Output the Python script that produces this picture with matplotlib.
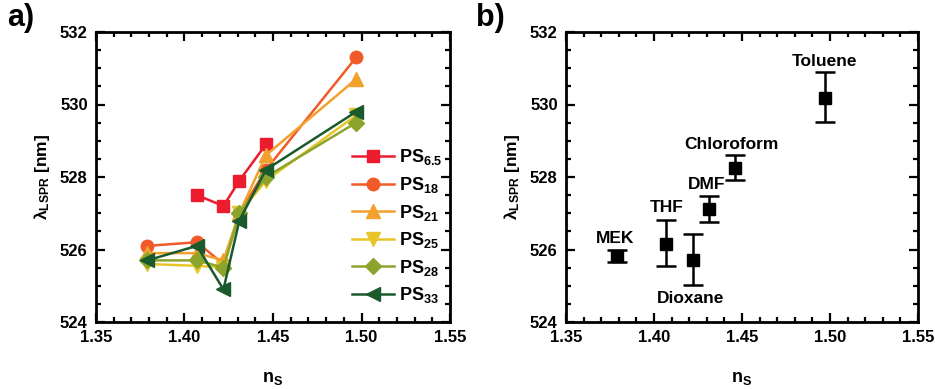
import numpy as np
import matplotlib
matplotlib.use("Agg")
import matplotlib.pyplot as plt
from matplotlib.ticker import MultipleLocator

plt.rcParams['font.family'] = ['Liberation Sans', 'DejaVu Sans']
plt.rcParams['mathtext.fontset'] = 'custom'
plt.rcParams['mathtext.rm'] = 'Liberation Sans:bold'
plt.rcParams['mathtext.it'] = 'Liberation Sans:bold'
plt.rcParams['mathtext.bf'] = 'Liberation Sans:bold'

# ---------- datos ----------
solvents = ["MEK", "THF", "Dioxane", "DMF", "Chloroform", "Toluene"]
n_s = [1.379, 1.407, 1.422, 1.431, 1.446, 1.497]

ps65_x = [1.407, 1.422, 1.431, 1.446]
ps65 = [527.5, 527.2, 527.9, 528.9]
ps18 = [526.1, 526.2, 525.6, 527.0, 528.2, 531.3]
ps21 = [525.9, 525.9, 525.7, 527.0, 528.6, 530.7]
ps25 = [525.6, 525.55, 525.5, 527.0, 527.9, 529.7]
ps28 = [525.7, 525.7, 525.5, 527.0, 528.0, 529.5]
ps33 = [525.7, 526.1, 524.9, 526.8, 528.2, 529.8]

lspr_mean = [525.83, 526.15, 525.72, 527.12, 528.26, 530.18]
err_low = [0.17, 0.6, 0.71, 0.36, 0.35, 0.65]
err_high = [0.17, 0.66, 0.7, 0.35, 0.34, 0.72]

series = [
    ("PS$_{6.5}$", ps65_x, ps65, '#ec1b2e', 's'),
    ("PS$_{18}$", n_s, ps18, '#f15a29', 'o'),
    ("PS$_{21}$", n_s, ps21, '#f3a12e', '^'),
    ("PS$_{25}$", n_s, ps25, '#e8c62a', 'v'),
    ("PS$_{28}$", n_s, ps28, '#8da42c', 'D'),
    ("PS$_{33}$", n_s, ps33, '#1a5a2c', '<'),
]

fig = plt.figure(figsize=(9.35, 3.89), dpi=100)
ax1 = fig.add_axes([96 / 935, 1 - 322 / 389, 354 / 935, 290 / 389])
ax2 = fig.add_axes([566 / 935, 1 - 322 / 389, 352 / 935, 290 / 389])


def style_axes(ax):
    ax.set_xlim(1.35, 1.55)
    ax.set_ylim(524, 532)
    ax.xaxis.set_major_locator(MultipleLocator(0.05))
    ax.xaxis.set_minor_locator(MultipleLocator(0.01))
    ax.yaxis.set_major_locator(MultipleLocator(2))
    ax.yaxis.set_minor_locator(MultipleLocator(0.5))
    ax.tick_params(which='both', direction='in', top=True, right=True, width=1.6)
    ax.tick_params(which='major', length=6.5, labelsize=12, pad=6)
    ax.tick_params(which='minor', length=3.5)
    ax.set_xticks([1.35, 1.40, 1.45, 1.50, 1.55])
    ax.set_xticklabels(["1.35", "1.40", "1.45", "1.50", "1.55"])
    for lbl in ax.get_xticklabels() + ax.get_yticklabels():
        lbl.set_fontweight('bold')
    for sp in ax.spines.values():
        sp.set_linewidth(2.0)
    ax.set_xlabel("n$_\\mathrm{S}$", fontsize=13, fontweight='bold', labelpad=18)
    ax.set_ylabel("$\\lambda_{\\mathrm{LSPR}}$ [nm]", fontsize=12.5,
                  fontweight='bold', labelpad=6)


for label, xs, ys, col, mk in series:
    ms = 9 if mk in ('s', 'o') else 10
    if mk == 'D':
        ms = 8
    ax1.plot(xs, ys, color=col, marker=mk, markersize=ms, linewidth=1.8, label=label)

style_axes(ax1)
leg = ax1.legend(loc='center right', bbox_to_anchor=(1.01, 0.33), frameon=False,
                 fontsize=13, handlelength=2.3, labelspacing=0.42, handletextpad=0.3,
                 borderaxespad=0.2)
for t in leg.get_texts():
    t.set_fontweight('bold')

ax2.errorbar(n_s, lspr_mean, yerr=[err_low, err_high], fmt='s', color='black',
             markersize=8, capsize=7, elinewidth=1.8, capthick=1.8)
style_axes(ax2)

label_pos = {
    "MEK": (1.378, 526.3),
    "THF": (1.407, 527.15),
    "Dioxane": (1.421, 524.65),
    "DMF": (1.430, 527.8),
    "Chloroform": (1.444, 528.9),
    "Toluene": (1.497, 531.2),
}
for name in solvents:
    lx, ly = label_pos[name]
    ax2.text(lx, ly, name, ha='center', va='center', fontsize=12.5, fontweight='bold')

fig.text(7 / 935, 1 - 18 / 389, "a)", fontsize=22, fontweight='bold', va='center')
fig.text(476 / 935, 1 - 18 / 389, "b)", fontsize=22, fontweight='bold', va='center')

fig.savefig("out.png", dpi=100)
